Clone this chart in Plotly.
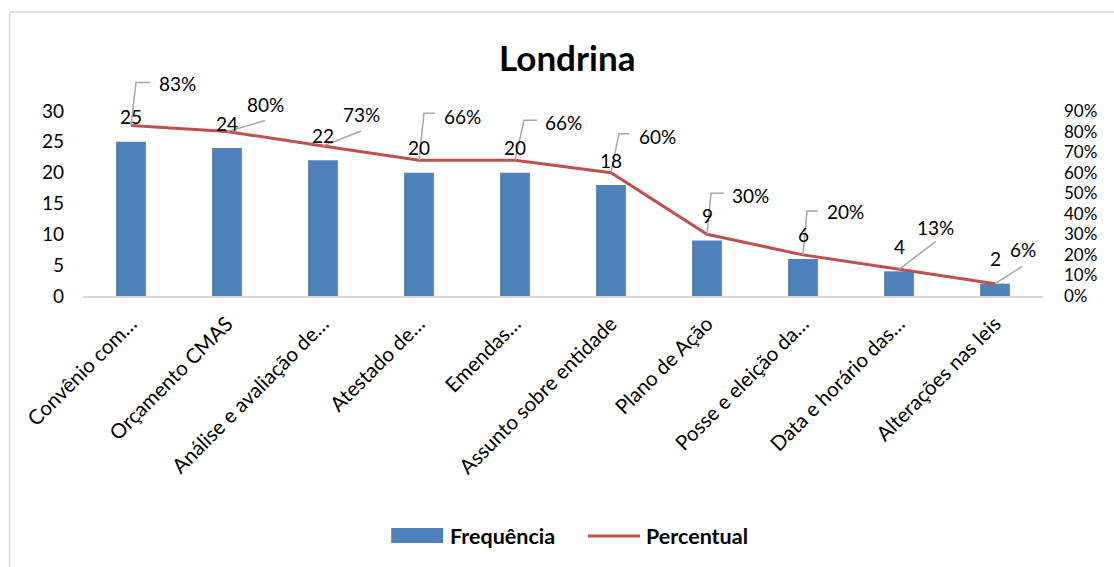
import plotly.graph_objects as go

# ---------------- data ----------------
categories = ["Convênio com…", "Orçamento CMAS", "Análise e avaliação de…", "Atestado de…",
              "Emendas…", "Assunto sobre entidade", "Plano de Ação", "Posse e eleição da…",
              "Data e horário das…", "Alterações nas leis"]
frequencia = [25, 24, 22, 20, 20, 18, 9, 6, 4, 2]
percentual = [0.83, 0.80, 0.73, 0.66, 0.66, 0.60, 0.30, 0.20, 0.13, 0.06]
y_ticks = [0, 5, 10, 15, 20, 25, 30]
y2_ticks = [0, 0.1, 0.2, 0.3, 0.4, 0.5, 0.6, 0.7, 0.8, 0.9]
Y_MAX = 30
Y2_MAX = 0.9

# ---------------- style ----------------
W, H = 1114, 567
ML, MR, MT, MB = 82.5, 70.5, 111, 271
FONT = "Lato"
BLUE = "#4F81BD"
RED = "#C0504D"
GRAY = "#A6A6A6"

# percentage label offsets (screen px, dy negative = up) and leader polylines
pct_offsets = [(46, -42), (38, -27), (38, -31), (43, -44), (48, -38),
               (46, -36), (43, -39), (42, -43), (36, -42), (28, -34)]
leaders = [
    [(0, 0), (5, -43), (19, -43)],
    [(0, 0), (38, -11)],
    [(0, 0), (38, -15)],
    [(0, 0), (5, -47), (16, -47)],
    [(0, 0), (9, -40), (22, -40)],
    [(0, 0), (8, -39), (18, -39)],
    [(0, 0), (4, -41), (17, -41)],
    [(0, 0), (4, -44), (15, -44)],
    [(0, 0), (37, -28)],
    [(0, 0), (27, -17)],
]

pw = W - ML - MR
ph = H - MT - MB


def px(x):
    return (x - ML) / pw


def py(y):
    return (H - MB - y) / ph


fig = go.Figure()
fig.add_trace(go.Bar(x=categories, y=frequencia, name="Frequência", marker=dict(color=BLUE, line=dict(width=0)),
                     yaxis="y", showlegend=False))
fig.add_trace(go.Scatter(x=categories, y=percentual, name="Percentual", mode="lines",
                         line=dict(color=RED, width=3), yaxis="y2", showlegend=False))

annotations = []
shapes = []
n = len(categories)
for i, (c, v) in enumerate(zip(categories, frequencia)):
    annotations.append(dict(x=c, y=v, xref="x", yref="y", text=str(v), showarrow=False,
                            yshift=25, xanchor="center", yanchor="middle",
                            font=dict(family=FONT, size=19, color="#000000")))
for i, (c, p) in enumerate(zip(categories, percentual)):
    dx, dy = pct_offsets[i]
    annotations.append(dict(x=c, y=p, xref="x", yref="y2", text=f"{p:.0%}", showarrow=False,
                            xshift=dx, yshift=-dy, xanchor="center", yanchor="middle",
                            font=dict(family=FONT, size=19, color="#000000")))
    pts = leaders[i]
    path = "M" + " L".join(f"{a},{-b}" for a, b in pts)
    # leader lines anchored at the line point (paper coords so they are not clipped)
    shapes.append(dict(type="path", xref="paper", yref="paper", xsizemode="pixel", ysizemode="pixel",
                       xanchor=(i + 0.5) / n, yanchor=p / Y2_MAX, path=path,
                       line=dict(color=GRAY, width=1.5)))

# title
annotations.append(dict(x=px(567), y=py(57), xref="paper", yref="paper", text="<b>Londrina</b>",
                        xanchor="center", yanchor="middle",
                        showarrow=False, font=dict(family=FONT, size=35, color="#000000")))

# chart border (top and left)
shapes.append(dict(type="line", xref="paper", yref="paper", x0=px(9), x1=px(W + 5), y0=py(12), y1=py(12),
                   line=dict(color="#D9D9D9", width=1.5)))
shapes.append(dict(type="line", xref="paper", yref="paper", x0=px(9), x1=px(9), y0=py(12), y1=py(H + 5),
                   line=dict(color="#D9D9D9", width=1.5)))

# legend (manual)
shapes.append(dict(type="rect", xref="paper", yref="paper", x0=px(391), x1=px(443), y0=py(528), y1=py(543),
                   fillcolor=BLUE, line=dict(width=0)))
shapes.append(dict(type="line", xref="paper", yref="paper", x0=px(588), x1=px(640), y0=py(536), y1=py(536),
                   line=dict(color=RED, width=3)))
annotations.append(dict(x=px(448), y=py(536), xref="paper", yref="paper", text="<b>Frequência</b>",
                        xanchor="left", yanchor="middle", showarrow=False,
                        font=dict(family=FONT, size=21.5, color="#000000")))
annotations.append(dict(x=px(644), y=py(536), xref="paper", yref="paper", text="<b>Percentual</b>",
                        xanchor="left", yanchor="middle", showarrow=False,
                        font=dict(family=FONT, size=21.5, color="#000000")))

fig.update_layout(
    width=W, height=H,
    margin=dict(l=ML, r=MR, t=MT, b=MB, autoexpand=False),
    paper_bgcolor="#FFFFFF", plot_bgcolor="#FFFFFF",
    bargap=0.69,
    font=dict(family=FONT, size=19, color="#000000"),
    showlegend=False,
    xaxis=dict(type="category", tickangle=-45, showgrid=False, showline=True, linecolor="#D9D9D9",
               linewidth=1.5, ticks="", ticklabelstandoff=6, tickfont=dict(family=FONT, size=20.5),
               zeroline=False),
    yaxis=dict(range=[0, Y_MAX], tickvals=y_ticks, showgrid=False, zeroline=False, showline=False,
               ticks="", ticklabelstandoff=18, tickfont=dict(family=FONT, size=19)),
    yaxis2=dict(range=[0, Y2_MAX], tickvals=y2_ticks, tickformat=".0%", overlaying="y", side="right",
                showgrid=False, zeroline=False, showline=False, ticks="", ticklabelstandoff=20,
                tickfont=dict(family=FONT, size=17)),
    annotations=annotations,
    shapes=shapes,
)

fig.write_html("out.html")
